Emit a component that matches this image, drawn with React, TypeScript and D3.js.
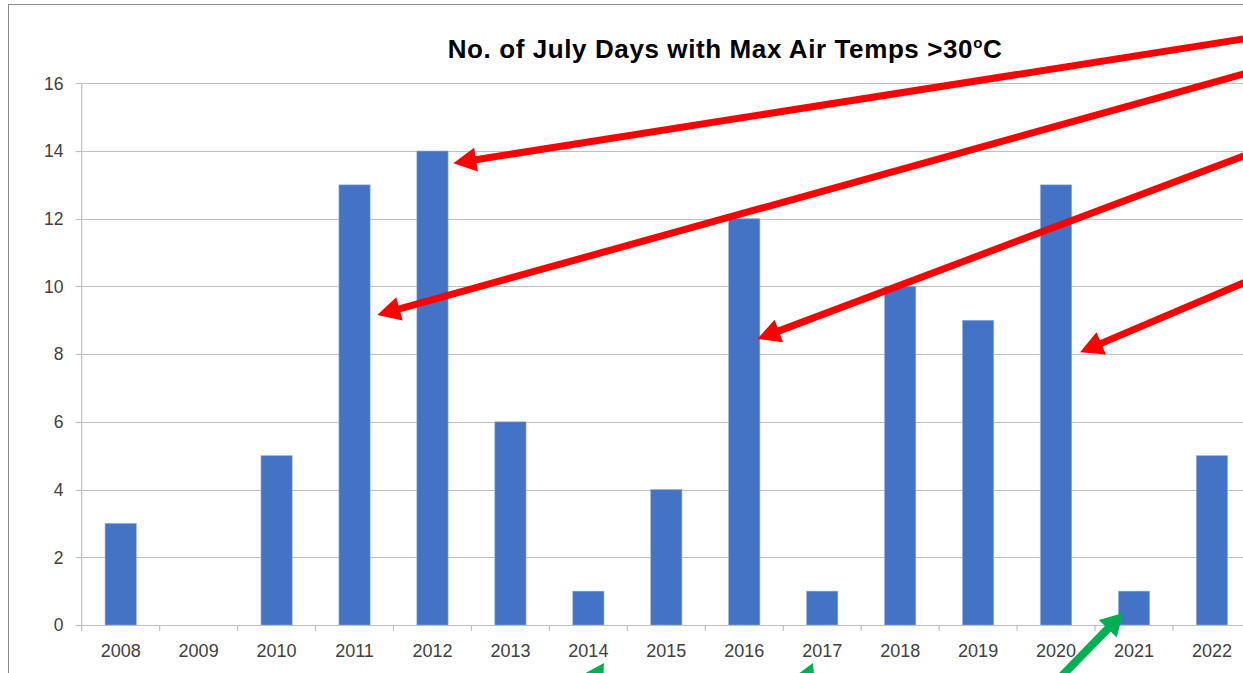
import React, { useEffect } from "react";
import * as d3 from "d3";

const years = ["2008","2009","2010","2011","2012","2013","2014","2015","2016","2017","2018","2019","2020","2021","2022"];
const days = [3, 0, 5, 13, 14, 6, 1, 4, 12, 1, 10, 9, 13, 1, 5];
const yTicks = [0, 2, 4, 6, 8, 10, 12, 14, 16];
const titleMain = "No. of July Days with Max Air Temps >30";
const titleSup = "o";
const titleEnd = "C";

// annotation arrows in data space: category index (continuous) and value
const redArrows = [
  { from: [14.9, 17.31], to: [4.767, 13.64] },
  { from: [14.9, 16.27], to: [3.792, 9.155] },
  { from: [14.9, 13.85], to: [8.667, 8.447] },
  { from: [14.9, 10.1], to: [12.807, 8.054] },
];
const greenArrows = [
  { from: [6.3, -2.6], to: [6.7, -1.122] },
  { from: [9.1, -2.6], to: [9.38, -1.122] },
  { from: [12.61, -1.418], to: [13.36, 0.354] },
];

const W = 1243, H = 673;
const left = 81.7, step = 77.95, top = 83.3, bottom = 625;

function Arrow({ x1, y1, x2, y2, color, width, headLen, headW }) {
  const dx = x2 - x1, dy = y2 - y1;
  const len = Math.hypot(dx, dy);
  const ux = dx / len, uy = dy / len;
  const bx = x2 - ux * headLen, by = y2 - uy * headLen;
  const px = -uy, py = ux;
  const sx = x1 - ux * 30, sy = y1 - uy * 30;
  const pts = [
    [x2, y2],
    [bx + px * headW / 2, by + py * headW / 2],
    [bx - px * headW / 2, by - py * headW / 2],
  ];
  return (
    <g>
      <line x1={sx} y1={sy} x2={bx + ux * 2} y2={by + uy * 2} stroke={color} strokeWidth={width} />
      <polygon points={pts.map(p => p.join(",")).join(" ")} fill={color} />
    </g>
  );
}

export default function App() {
  useEffect(() => { document.body.style.margin = "0"; }, []);
  const x = d3.scaleBand().domain(years).range([left, left + step * years.length]).paddingInner(0.6).paddingOuter(0.3);
  const xi = d3.scaleLinear().domain([0, years.length]).range([left, left + step * years.length]);
  const y = d3.scaleLinear().domain([0, 16]).range([bottom, top]);
  const font = "'Liberation Sans', Arial, sans-serif";
  const grid = "#bfbfbf";
  return (
    <svg width={W} height={H} style={{ display: "block", background: "#fff" }}>
      <rect x={8.5} y={4.5} width={W + 20} height={H + 20} fill="#fff" stroke="#8c8c8c" strokeWidth={1} />
      {yTicks.filter(t => t > 0).map(t => (
        <line key={t} x1={left} x2={W + 10} y1={Math.round(y(t)) + 0.5} y2={Math.round(y(t)) + 0.5} stroke={grid} strokeWidth={1.2} />
      ))}
      <line x1={left} x2={left} y1={top} y2={bottom} stroke={grid} strokeWidth={1.2} />
      {yTicks.map(t => (
        <g key={"yt" + t}>
          <line x1={left - 6} x2={left} y1={Math.round(y(t)) + 0.5} y2={Math.round(y(t)) + 0.5} stroke={grid} strokeWidth={1.2} />
          <text x={63.5} y={y(t)} dy="0.36em" textAnchor="end" fontFamily={font} fontSize={17.5} fill="#404040">{t}</text>
        </g>
      ))}
      {years.map((yr, i) => (
        <rect key={yr} x={x(yr)} y={y(days[i])} width={x.bandwidth()} height={bottom - y(days[i])} fill="#4472C4" stroke="#8eaadb" strokeWidth={0.6} />
      ))}
      <line x1={left} x2={W + 10} y1={bottom + 0.5} y2={bottom + 0.5} stroke={grid} strokeWidth={1.2} />
      {d3.range(years.length + 1).map(i => (
        <line key={"xt" + i} x1={xi(i)} x2={xi(i)} y1={bottom} y2={bottom + 6} stroke={grid} strokeWidth={1.2} />
      ))}
      {years.map(yr => (
        <text key={"xl" + yr} x={x(yr) + x.bandwidth() / 2} y={657} textAnchor="middle" fontFamily={font} fontSize={18} fill="#404040">{yr}</text>
      ))}
      <text x={725} y={58.3} textAnchor="middle" fontFamily={font} fontWeight="bold" fontSize={26} letterSpacing={0.6} fill="#000">
        {titleMain}
        <tspan fontSize={15} dy={-10}>{titleSup}</tspan>
        <tspan dy={10}>{titleEnd}</tspan>
      </text>
      {redArrows.map((a, i) => (
        <Arrow key={"r" + i} x1={xi(a.from[0])} y1={y(a.from[1])} x2={xi(a.to[0])} y2={y(a.to[1])} color="#FF0000" width={7} headLen={23} headW={24} />
      ))}
      {greenArrows.map((a, i) => (
        <Arrow key={"g" + i} x1={xi(a.from[0])} y1={y(a.from[1])} x2={xi(a.to[0])} y2={y(a.to[1])} color="#00B050" width={8} headLen={22} headW={25} />
      ))}
    </svg>
  );
}
